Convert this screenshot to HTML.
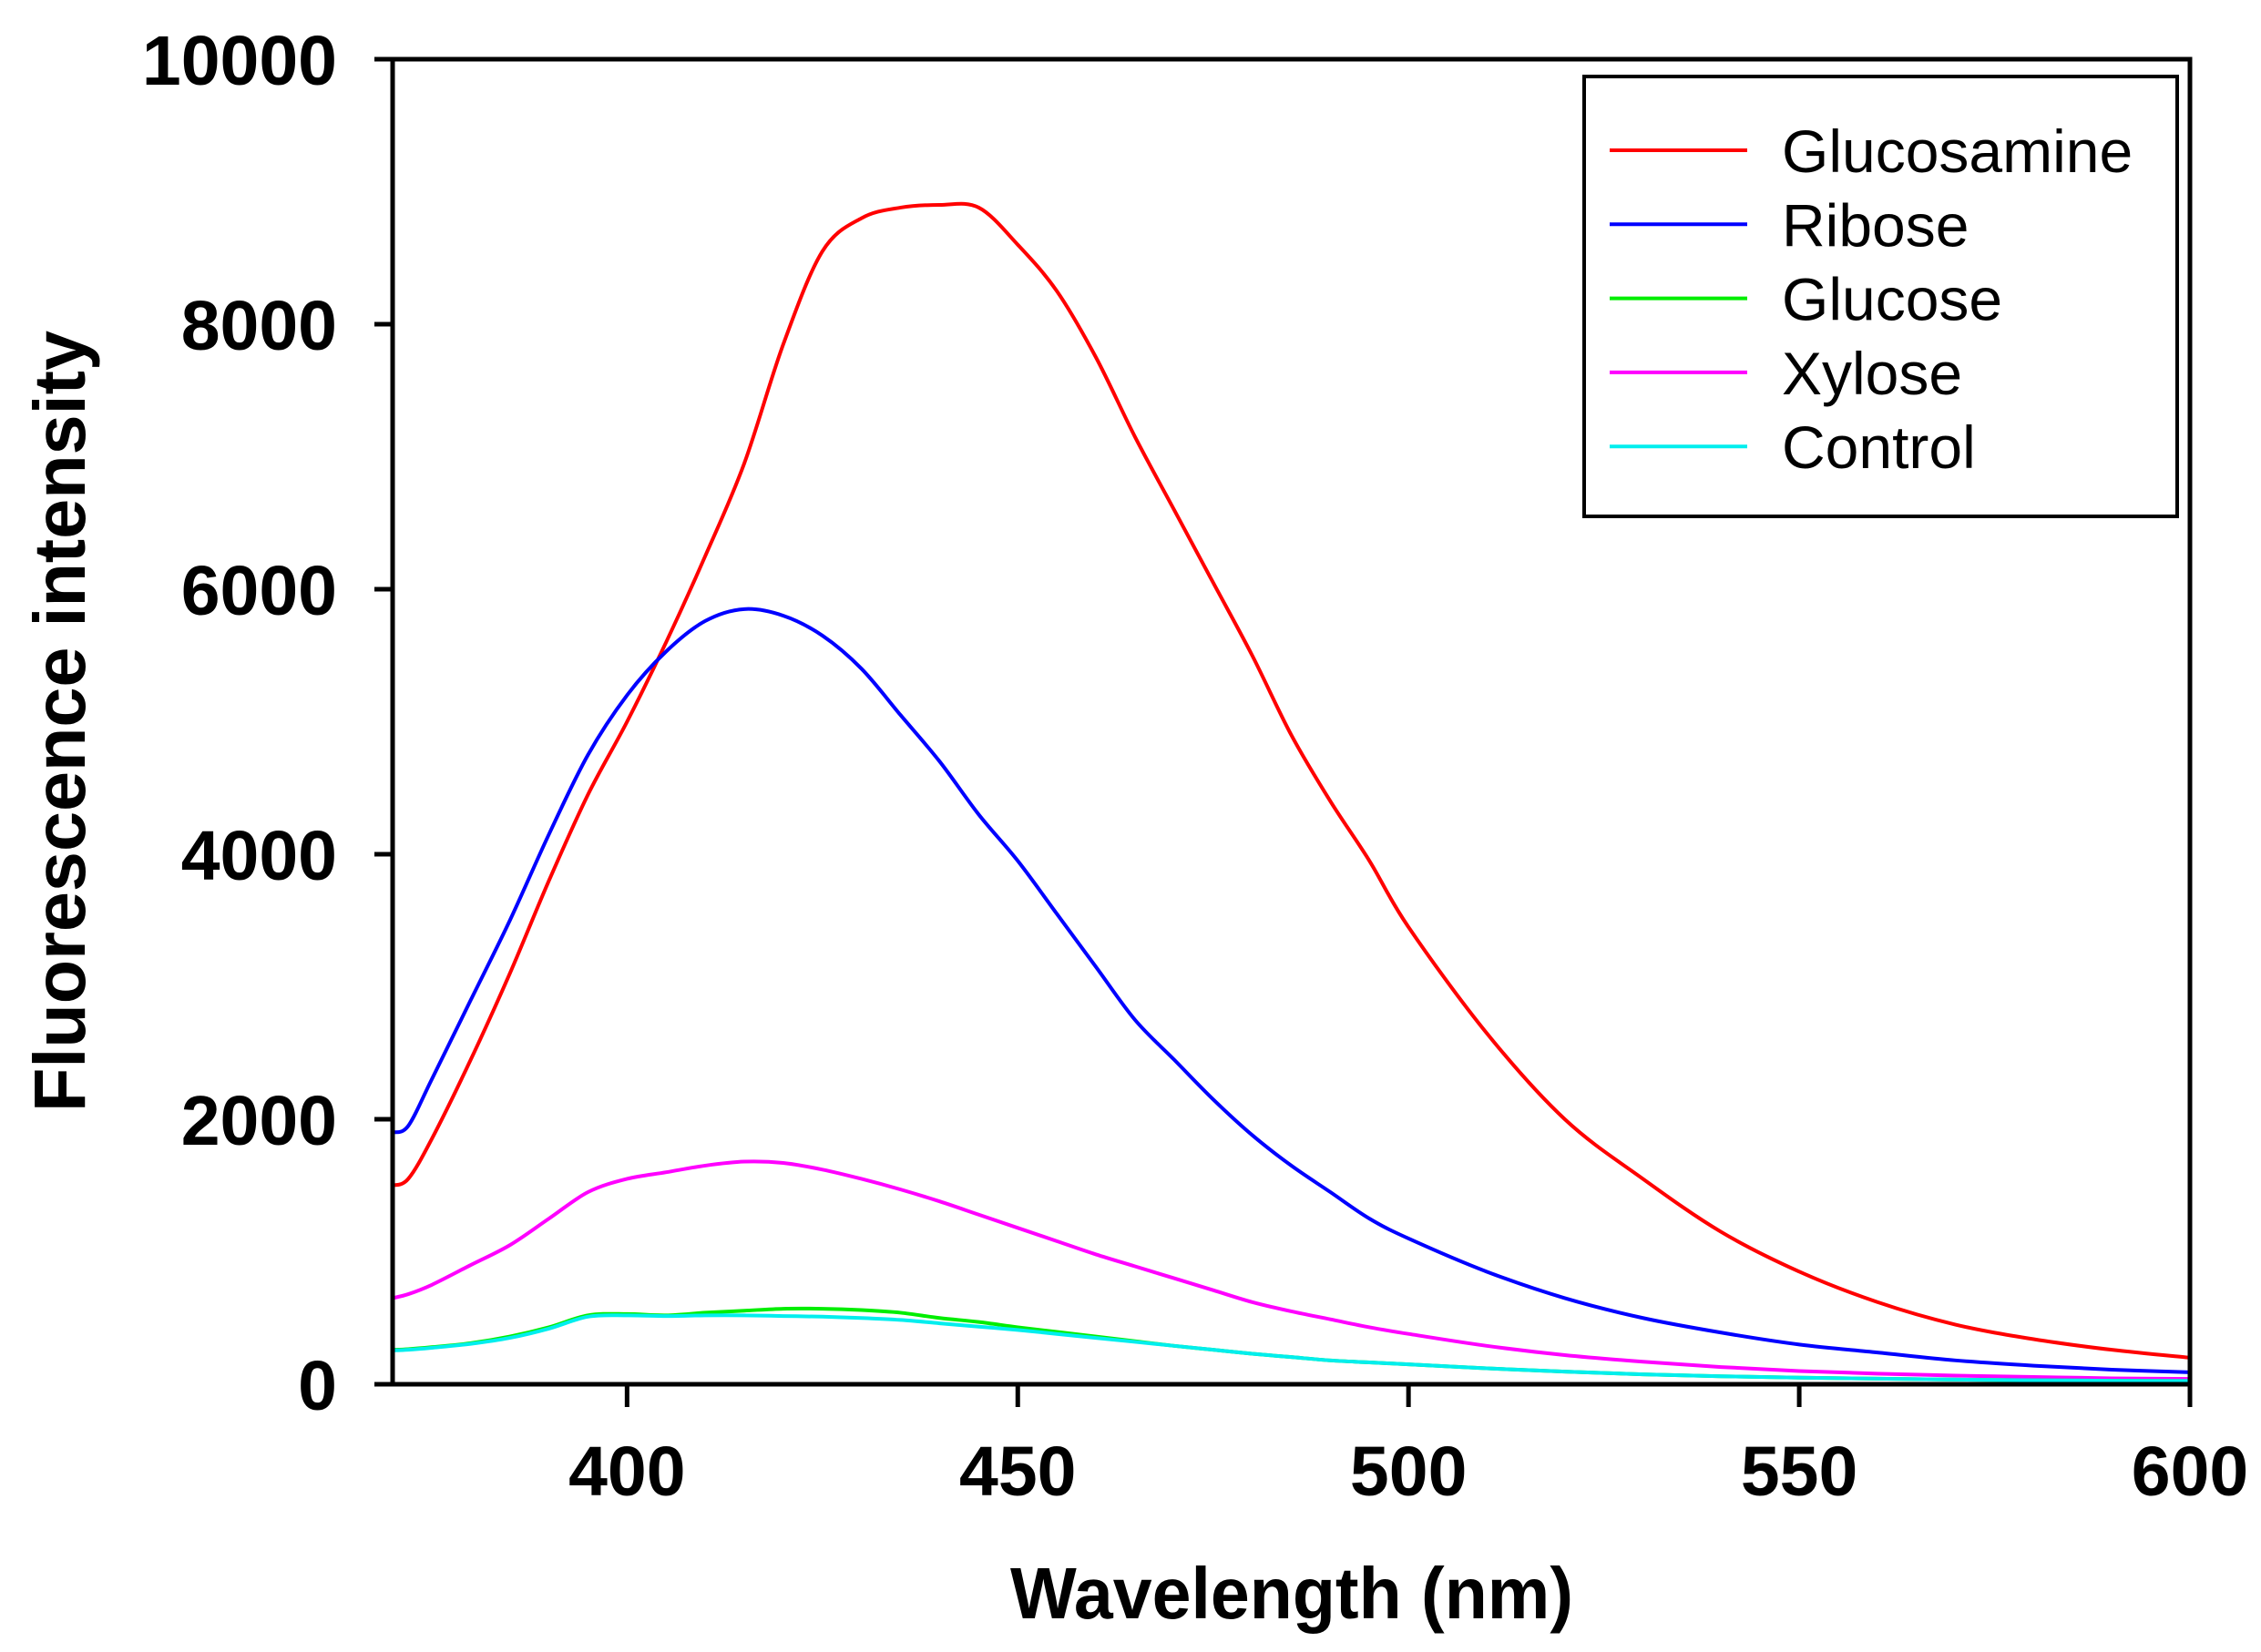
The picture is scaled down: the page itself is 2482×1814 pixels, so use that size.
<!DOCTYPE html>
<html><head><meta charset="utf-8"><style>
html,body{margin:0;padding:0;background:#fff;}
svg{display:block;}
text{font-family:"Liberation Sans",Arial,sans-serif;}
</style></head><body>
<svg id="chart" width="2482" height="1814" viewBox="0 0 2482 1814" xmlns="http://www.w3.org/2000/svg">
<g id="plot"></g>
</svg>
<script>
const wavelengths = [370,372,375,380,385,390,395,400,405,410,415,420,425,430,435,440,445,450,455,460,465,470,475,480,485,490,495,500,510,520,530,540,550,560,570,580,590,600];
const glucosamine = [1500,1550,1850,2450,3100,3800,4450,5000,5600,6250,6950,7850,8550,8800,8880,8900,8880,8600,8250,7750,7150,6600,6050,5500,4900,4400,3950,3450,2650,2000,1550,1150,850,620,450,340,260,200];
const ribose = [1900,1950,2300,2900,3500,4150,4750,5200,5530,5760,5850,5800,5650,5400,5050,4700,4300,3950,3550,3150,2750,2450,2150,1880,1650,1450,1250,1100,850,650,500,390,300,240,180,140,110,90];
const xylose = [650,680,750,900,1050,1250,1450,1550,1600,1650,1680,1670,1620,1550,1470,1380,1280,1180,1080,980,890,800,710,620,550,490,430,380,290,220,170,130,100,80,65,55,45,40];
const glucose = [260,265,280,310,360,430,520,530,520,540,555,570,570,560,540,500,470,430,395,360,325,290,260,230,205,180,165,150,120,95,75,60,50,42,35,30,27,25];
const control = [255,260,275,305,350,420,510,520,515,520,520,515,510,500,485,460,435,410,380,350,320,290,260,230,205,180,165,150,120,95,75,60,50,42,35,30,27,25];
const seriesNames = ["Glucosamine","Ribose","Glucose","Xylose","Control"];
const seriesColors = ["#ff0000","#0000ff","#00ee00","#ff00ff","#00eeee"];
const xTicks = [400,450,500,550,600];
const yTicks = [0,2000,4000,6000,8000,10000];

const NS="http://www.w3.org/2000/svg";
const L=431,R=2404,T=65,B=1520,XMIN=370,XMAX=600,YMAX=10000;
const xs=v=>L+(v-XMIN)/(XMAX-XMIN)*(R-L);
const ys=v=>B-v/YMAX*(B-T);
const g=document.getElementById('plot');
function mk(tag,attrs,parent){const e=document.createElementNS(NS,tag);for(const k in attrs)e.setAttribute(k,attrs[k]);(parent||g).appendChild(e);return e;}

const allData=[glucosamine,ribose,glucose,xylose,control];
const drawOrder=[3,0,1,2,4];
drawOrder.forEach(i=>{
  const d=allData[i];
  const pts=wavelengths.map((w,j)=>[xs(w),ys(d[j])]);
  let p='M'+pts[0][0]+','+pts[0][1];
  for(let j=0;j<pts.length-1;j++){
    const p0=pts[Math.max(0,j-1)],p1=pts[j],p2=pts[j+1],p3=pts[Math.min(pts.length-1,j+2)];
    const c1=[p1[0]+(p2[0]-p0[0])/6,p1[1]+(p2[1]-p0[1])/6];
    const c2=[p2[0]-(p3[0]-p1[0])/6,p2[1]-(p3[1]-p1[1])/6];
    p+=' C'+c1[0]+','+c1[1]+' '+c2[0]+','+c2[1]+' '+p2[0]+','+p2[1];
  }
  const path=mk('path',{d:p,fill:'none',stroke:seriesColors[i],'stroke-width':4,'stroke-linejoin':'round'});
  
  
});

const frame=mk('rect',{x:L,y:T,width:R-L,height:B-T,fill:'none',stroke:'#000','stroke-width':5});



xTicks.forEach(v=>{
  const t=mk('line',{x1:xs(v),x2:xs(v),y1:B,y2:B+25,stroke:'#000','stroke-width':5});
  
  
  const lb=mk('text',{x:xs(v),y:1642,'text-anchor':'middle','font-size':77,'font-weight':'bold'});
  lb.textContent=v;
  
  
});
yTicks.forEach(v=>{
  const t=mk('line',{x1:L-20,x2:L,y1:ys(v),y2:ys(v),stroke:'#000','stroke-width':5});
  
  
  const lb=mk('text',{x:370,y:ys(v)+28,'text-anchor':'end','font-size':77,'font-weight':'bold'});
  lb.textContent=v;
  
  
});

const xt=mk('text',{x:1418,y:1777,'text-anchor':'middle','font-size':80,'font-weight':'bold',textLength:618,lengthAdjust:'spacingAndGlyphs'});
xt.textContent='Wavelength (nm)';


const yt=mk('text',{x:0,y:0,'text-anchor':'middle','font-size':80,'font-weight':'bold',textLength:858,lengthAdjust:'spacingAndGlyphs',transform:'translate(93,792) rotate(-90)'});
yt.textContent='Fluorescence intensity';



const lg=mk('g',{});


const box=mk('rect',{x:1739,y:84,width:651,height:483,fill:'#fff',stroke:'#000','stroke-width':4},lg);


seriesNames.forEach((n,i)=>{
  const y=165+i*81.3;
  const ln=mk('line',{x1:1767,x2:1918,y1:y,y2:y,stroke:seriesColors[i],'stroke-width':4},lg);
  
  
  const tx=mk('text',{x:1956,y:y+24,'font-size':66},lg);
  tx.textContent=n;
  
  
});
</script>
</body></html>
